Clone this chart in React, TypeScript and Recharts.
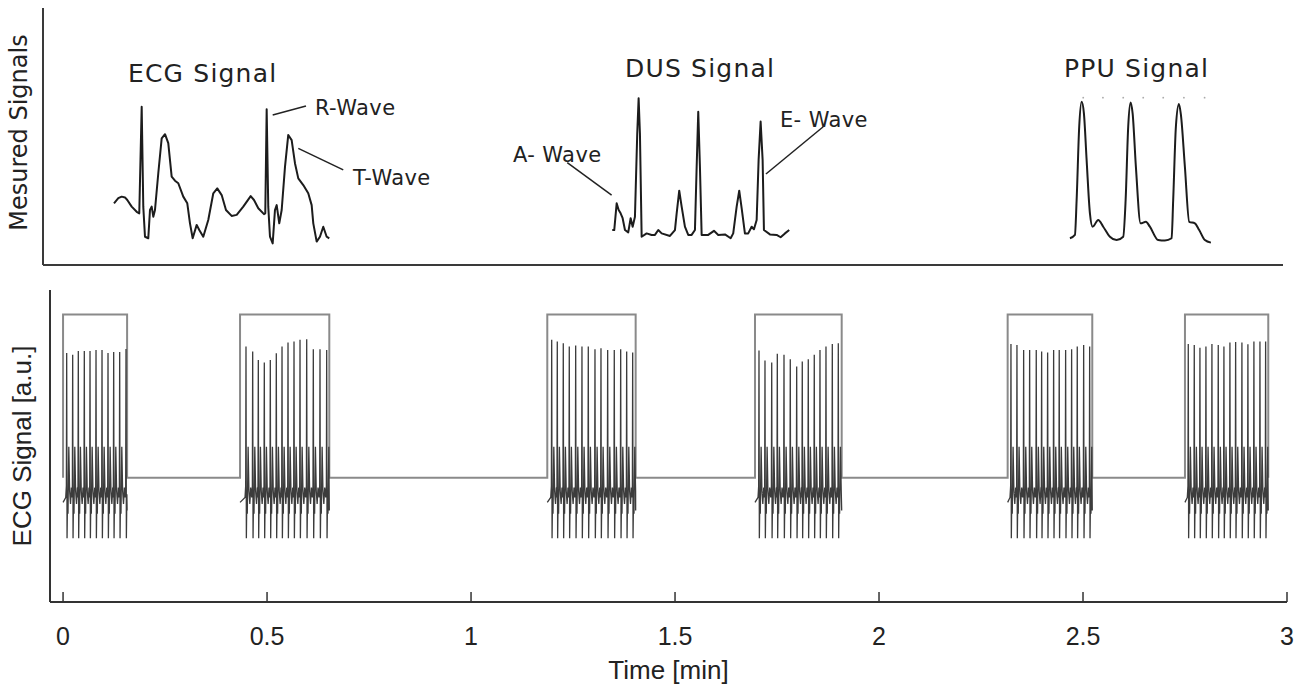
import React from 'react';
import { ComposedChart, LineChart, Line, XAxis, YAxis, ReferenceLine, ReferenceDot } from 'recharts';

// ---------- shared time axis ----------
const timeTicks = [0, 0.5, 1, 1.5, 2, 2.5, 3];
const timeDomain = [-0.032, 3];

// ---------- top panel: measured signal snippets ----------
const ecgTopT = [0.1416,0.1521,0.1604,0.1685,0.1741,0.1848,0.1971,0.2034,0.2093,0.2132,0.2174,0.2254,0.2296,0.2337,0.2377,0.2418,0.2499,0.2582,0.2663,0.2743,0.2826,0.2907,0.2988,0.3110,0.3208,0.3274,0.3340,0.3438,0.3501,0.3599,0.3721,0.3844,0.3941,0.4049,0.4154,0.4293,0.4416,0.4577,0.4758,0.4839,0.4944,0.5083,0.5115,0.5149,0.5188,0.5230,0.5296,0.5352,0.5394,0.5457,0.5516,0.5597,0.5677,0.5760,0.5841,0.5922,0.6044,0.6166,0.6249,0.6289,0.6372,0.6452,0.6533,0.6616,0.6680];
const ecgTopV = [2.40,2.60,2.66,2.63,2.53,2.27,2.07,2.01,6.16,2.27,1.10,1.04,2.14,2.27,1.88,2.14,3.57,4.93,5.09,4.74,3.44,3.28,3.18,2.66,2.40,1.62,1.04,1.56,1.36,1.10,1.75,2.79,2.98,2.72,2.14,1.91,1.95,2.27,2.68,2.53,2.21,1.98,2.01,6.06,2.27,1.10,0.84,2.14,2.33,1.62,2.14,3.82,5.06,4.86,3.96,3.37,3.11,2.79,2.33,1.62,0.91,1.10,1.49,1.10,1.04];

const dusT = [1.3599,1.3648,1.3707,1.3756,1.3804,1.3853,1.3910,1.3990,1.4049,1.4098,1.4154,1.4210,1.4244,1.4276,1.4318,1.4440,1.4562,1.4643,1.4724,1.4807,1.5010,1.5132,1.5174,1.5237,1.5296,1.5376,1.5457,1.5540,1.5621,1.5663,1.5702,1.5743,1.5785,1.5946,1.6086,1.6191,1.6355,1.6494,1.6557,1.6641,1.6704,1.6763,1.6843,1.6924,1.7007,1.7064,1.7130,1.7178,1.7227,1.7276,1.7308,1.7455,1.7619,1.7716,1.7822,1.7927];
const dusV = [1.36,1.36,2.40,2.14,2.01,1.82,1.36,1.27,1.82,1.49,1.88,5.12,6.49,5.12,1.10,1.23,1.17,1.17,1.36,1.23,1.13,1.36,2.01,2.89,2.27,1.49,1.17,1.17,1.36,3.82,5.96,3.82,1.17,1.17,1.33,1.17,1.19,1.04,1.23,2.27,2.89,2.21,1.23,1.23,1.49,1.39,1.75,4.09,5.58,4.09,1.36,1.19,1.17,1.08,1.23,1.36];

const ppuT = [2.4790,2.4912,2.4954,2.5017,2.5076,2.5132,2.5198,2.5279,2.5345,2.5482,2.5604,2.5768,2.5931,2.6093,2.6152,2.6215,2.6274,2.6323,2.6403,2.6518,2.6648,2.6745,2.6948,2.7112,2.7276,2.7315,2.7381,2.7455,2.7504,2.7601,2.7707,2.7846,2.7951,2.8090,2.8237];
const ppuV = [1.04,1.17,2.53,5.38,6.35,5.90,4.09,2.01,1.49,1.75,1.49,1.10,0.97,1.10,2.53,5.38,6.32,5.90,3.82,1.62,1.68,1.49,0.97,0.95,1.04,2.53,5.38,6.26,5.84,3.82,1.68,1.62,1.36,0.97,0.87];

const ppuMarkT = [2.5115, 2.5597, 2.6093, 2.6582, 2.7071, 2.7577, 2.8083];
const ppuMarkV = [6.51, 6.51, 6.51, 6.51, 6.51, 6.51, 6.51];

const titleText = ['ECG Signal', 'DUS Signal', 'PPU Signal'];
const titleT = [0.1758, 1.391, 2.4643];
const titleV = [7.12, 7.32, 7.32];

const waveText = ['R-Wave', 'T-Wave', 'A- Wave', 'E- Wave'];
const waveT = [0.633, 0.7259, 1.1171, 1.7699];
const waveV = [5.84, 3.11, 4.01, 5.37];
const pointerT1 = [0.5296, 0.5922, 1.2499, 1.8758];
const pointerV1 = [5.84, 4.54, 3.98, 5.38];
const pointerT2 = [0.611, 0.7022, 1.3584, 1.7357];
const pointerV2 = [6.19, 3.7, 2.72, 3.54];

// ---------- bottom panel: gated ECG recording ----------
const gateStart = [0, 0.4338, 1.1869, 1.696, 2.3153, 2.7499];
const gateEnd = [0.157, 0.6526, 1.4035, 1.9085, 2.5227, 2.9541];
const gateLow = 0;
const gateHigh = 1;

const beatTimes = [
  [0.0089,0.0236,0.0374,0.0521,0.0661,0.0808,0.0955,0.1102,0.1241,0.1388,0.1543],
  [0.4484,0.4648,0.4786,0.4933,0.508,0.5227,0.5367,0.5514,0.5661,0.5808,0.5972,0.6134,0.6298,0.6462],
  [1.1977,1.2114,1.2261,1.2408,1.2565,1.2719,1.2874,1.3038,1.3185,1.3349,1.3511,1.3668,1.3815,1.3962],
  [1.7058,1.7205,1.737,1.7507,1.7671,1.7825,1.7982,1.8119,1.8266,1.8413,1.8553,1.87,1.8855,1.9002],
  [2.3234,2.3381,2.3545,2.3692,2.3854,2.3986,2.4133,2.428,2.4417,2.4574,2.4721,2.4859,2.5016,2.5163],
  [2.758,2.7727,2.7866,2.8013,2.816,2.8315,2.8454,2.8601,2.8741,2.8895,2.9042,2.9189,2.9337,2.9476],
];
const beatPeaks = [
  [0.765,0.753,0.777,0.777,0.777,0.783,0.783,0.765,0.771,0.771,0.789],
  [0.804,0.773,0.722,0.706,0.722,0.763,0.804,0.828,0.834,0.845,0.849,0.788,0.788,0.783],
  [0.845,0.834,0.824,0.804,0.81,0.804,0.804,0.788,0.794,0.783,0.783,0.788,0.773,0.767],
  [0.779,0.718,0.706,0.759,0.753,0.726,0.681,0.712,0.726,0.753,0.783,0.804,0.82,0.824],
  [0.82,0.814,0.783,0.783,0.783,0.773,0.767,0.783,0.783,0.783,0.788,0.804,0.814,0.804],
  [0.82,0.814,0.796,0.804,0.82,0.814,0.804,0.828,0.832,0.828,0.818,0.834,0.834,0.834],
];
// one heartbeat's shape around its R peak (offset in min, level in a.u.); index 2 is the R peak
const beatOffset = [-0.0024, -0.0008, 0, 0.0009, 0.0021, 0.0032, 0.0052, 0.0072, 0.0094, 0.0115];
const beatLevel = [-0.12, -0.05, 0, -0.37, -0.1, -0.22, 0.19, -0.08, -0.16, -0.06];
const windowEdgeLevel = [-0.15, -0.2];

const zip = (ts: number[], vs: number[]) => ts.map((t, i) => ({ t, v: vs[i] }));

const ecgTop = zip(ecgTopT, ecgTopV);
const dusTop = zip(dusT, dusV);
const ppuTop = zip(ppuT, ppuV);
const ppuMarks = zip(ppuMarkT, ppuMarkV);

const gateData: { t: number; v: number }[] = [];
gateStart.forEach((s, i) => {
  gateData.push({ t: s, v: gateLow }, { t: s, v: gateHigh }, { t: gateEnd[i], v: gateHigh }, { t: gateEnd[i], v: gateLow });
});

const ecgWindows = beatTimes.map((times, w) => {
  const pts: { t: number; v: number }[] = [{ t: gateStart[w], v: windowEdgeLevel[0] }];
  times.forEach((bt, b) => {
    beatOffset.forEach((dt, j) => {
      const t = bt + dt;
      if (t > gateStart[w] && t < gateEnd[w]) pts.push({ t, v: j === 2 ? beatPeaks[w][b] : beatLevel[j] });
    });
  });
  pts.push({ t: gateEnd[w], v: windowEdgeLevel[1] });
  return pts;
});

const SANS_V = '"DejaVu Sans", Verdana, sans-serif';
const SANS_A = '"Liberation Sans", Arial, Helvetica, sans-serif';

const textShape = (text: string, size: number, spacing: number) => (p: any) => (
  <text x={p.cx} y={p.cy} fontSize={size} fontFamily={SANS_V} fill="#222" letterSpacing={spacing}>
    {text}
  </text>
);

export default function App() {
  return (
    <div style={{ position: 'absolute', left: 0, top: 0, width: 1304, height: 688, background: '#fff', overflow: 'hidden' }}>
      <div style={{ position: 'absolute', left: 0, top: 0 }}>
        <ComposedChart width={1304} height={280} margin={{ top: 8, right: 21, bottom: 0, left: 0 }}>
          <XAxis
            dataKey="t"
            type="number"
            domain={timeDomain}
            ticks={timeTicks}
            allowDataOverflow
            height={15}
            tick={false}
            tickSize={-3}
            tickLine={{ stroke: '#aaa' }}
            axisLine={{ stroke: '#3a3a3a', strokeWidth: 2 }}
          />
          <YAxis
            type="number"
            domain={[0, 10]}
            allowDataOverflow
            width={43}
            tick={false}
            tickLine={false}
            axisLine={{ stroke: '#3a3a3a', strokeWidth: 2 }}
            label={{ value: 'Mesured Signals', angle: -90, position: 'insideLeft', offset: 18, dy: -4, style: { textAnchor: 'middle', fontFamily: SANS_V, fontSize: 24, fill: '#222' } }}
          />
          <Line data={ecgTop} dataKey="v" type="linear" stroke="#1c1c1c" strokeWidth={2} strokeLinejoin="round" dot={false} activeDot={false} isAnimationActive={false} />
          <Line data={dusTop} dataKey="v" type="linear" stroke="#1c1c1c" strokeWidth={2} strokeLinejoin="round" dot={false} activeDot={false} isAnimationActive={false} />
          <Line data={ppuTop} dataKey="v" type="monotone" stroke="#1c1c1c" strokeWidth={2} dot={false} activeDot={false} isAnimationActive={false} />
          <Line data={ppuMarks} dataKey="v" type="linear" stroke="none" dot={{ r: 0.9, fill: '#aaa', stroke: 'none' }} activeDot={false} isAnimationActive={false} />
          {pointerT1.map((t, i) => (
            <ReferenceLine
              key={'p' + i}
              segment={[{ x: t, y: pointerV1[i] }, { x: pointerT2[i], y: pointerV2[i] }]}
              stroke="#222"
              strokeWidth={1.5}
            />
          ))}
          {titleText.map((s, i) => (
            <ReferenceDot key={'t' + i} x={titleT[i]} y={titleV[i]} r={1} shape={textShape(s, 25, 1.2)} />
          ))}
          {waveText.map((s, i) => (
            <ReferenceDot key={'w' + i} x={waveT[i]} y={waveV[i]} r={1} shape={textShape(s, 21, 0.4)} />
          ))}
        </ComposedChart>
      </div>
      <div style={{ position: 'absolute', left: 0, top: 280 }}>
        <LineChart width={1304} height={408} margin={{ top: 10, right: 17, bottom: 0, left: 0 }}>
          <XAxis
            dataKey="t"
            type="number"
            domain={timeDomain}
            ticks={timeTicks}
            allowDataOverflow
            height={86}
            tickSize={-10}
            tickMargin={35}
            tickLine={{ stroke: '#333', strokeWidth: 1.5 }}
            axisLine={{ stroke: '#333', strokeWidth: 2 }}
            tick={{ fontFamily: SANS_A, fontSize: 25, fill: '#222' }}
            label={{ value: 'Time [min]', position: 'insideBottom', offset: 9, style: { fontFamily: SANS_A, fontSize: 26, fill: '#222' } }}
          />
          <YAxis
            type="number"
            domain={[-0.76, 1.15]}
            allowDataOverflow
            width={50}
            tick={false}
            tickLine={false}
            axisLine={{ stroke: '#333', strokeWidth: 2 }}
            label={{ value: 'ECG Signal [a.u.]', angle: -90, position: 'insideLeft', offset: 22, style: { textAnchor: 'middle', fontFamily: SANS_A, fontSize: 26, fill: '#222' } }}
          />
          <Line data={gateData} dataKey="v" type="linear" stroke="#8a8a8a" strokeWidth={2} dot={false} activeDot={false} isAnimationActive={false} />
          {ecgWindows.map((d, i) => (
            <Line key={'e' + i} data={d} dataKey="v" type="linear" stroke="#3c3c3c" strokeWidth={1.3} dot={false} activeDot={false} isAnimationActive={false} />
          ))}
        </LineChart>
      </div>
    </div>
  );
}
